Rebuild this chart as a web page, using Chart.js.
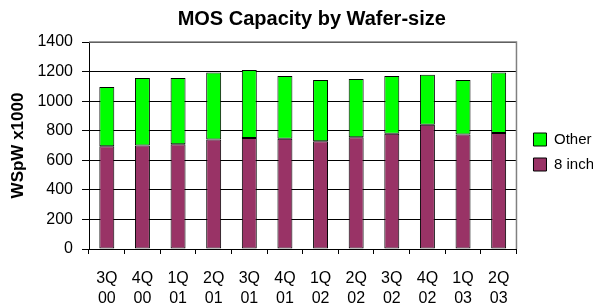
<!DOCTYPE html>
<html>
<head>
<meta charset="utf-8">
<script src="https://cdn.jsdelivr.net/npm/chart.js@4"></script>
<style>
  html, body { margin: 0; padding: 0; background: #fff; }
  #wrap { width: 593px; height: 304px; }
</style>
</head>
<body>
<div id="wrap"><canvas id="myChart" width="593" height="304"></canvas></div>
<script>
// quarters, two line labels
var quarters = [["3Q","00"],["4Q","00"],["1Q","01"],["2Q","01"],["3Q","01"],["4Q","01"],
                ["1Q","02"],["2Q","02"],["3Q","02"],["4Q","02"],["1Q","03"],["2Q","03"]];
var eightInch = [695, 700, 709, 741, 750, 745, 729, 756, 779, 840, 774, 784];
var other     = [400, 456, 447, 453, 460, 425, 414, 393, 391, 339, 369, 410];
var yTicks = [0, 200, 400, 600, 800, 1000, 1200, 1400];

var FONT = "'Liberation Sans', Arial, sans-serif";

// gray frame on top and right of plot area, small nudges for title/legend
var framePlugin = {
    id: 'frame',
    afterLayout: function (chart) {
        // excel centres the title a little right of the plot centre
        chart.titleBlock.left += 9;
        chart.titleBlock.right += 9;
        // legend sits a bit further from the plot
        chart.legend.left += 7;
        chart.legend.right += 7;
    },
    afterDatasetsDraw: function (chart) {
        var a = chart.chartArea, c = chart.ctx;
        c.save();
        c.strokeStyle = '#808080';
        c.lineWidth = 1.5;
        c.beginPath();
        c.moveTo(a.left, a.top);
        c.lineTo(a.right, a.top);
        c.lineTo(a.right, a.bottom);
        c.stroke();
        c.restore();
    }
};

var ctx = document.getElementById('myChart').getContext('2d');
new Chart(ctx, {
    type: 'bar',
    data: {
        labels: quarters,
        datasets: [
            {
                label: '8 inch',
                data: eightInch,
                backgroundColor: '#993366',
                borderColor: '#000',
                borderWidth: 1,
                borderSkipped: false
            },
            {
                label: 'Other',
                data: other,
                backgroundColor: '#00FF00',
                borderColor: '#000',
                borderWidth: 1,
                borderSkipped: false
            }
        ]
    },
    options: {
        responsive: false,
        animation: false,
        devicePixelRatio: 1,
        layout: { padding: { left: 8, right: -4, top: 0, bottom: 0 } },
        datasets: { bar: { categoryPercentage: 1, barPercentage: 0.42 } },
        plugins: {
            title: {
                display: true,
                text: 'MOS Capacity by Wafer-size',
                color: '#000',
                fullSize: false,
                font: { family: FONT, size: 20, weight: 'bold' },
                padding: { top: 7, bottom: 11 }
            },
            legend: {
                position: 'right',
                reverse: true,
                labels: {
                    color: '#000',
                    boxWidth: 13,
                    boxHeight: 13,
                    padding: 10,
                    font: { family: FONT, size: 15 }
                }
            },
            tooltip: { enabled: false }
        },
        scales: {
            x: {
                stacked: true,
                afterFit: function (scale) { scale.height = 55; },
                grid: {
                    display: true,
                    drawOnChartArea: false,
                    color: '#000',
                    tickLength: 5,
                    offset: true
                },
                border: { color: '#000', width: 1 },
                ticks: {
                    color: '#000',
                    maxRotation: 0,
                    autoSkip: false,
                    padding: 15,
                    font: { family: FONT, size: 16, lineHeight: 1.25 }
                }
            },
            y: {
                stacked: true,
                min: 0,
                max: 1400,
                afterBuildTicks: function (scale) {
                    scale.ticks = yTicks.map(function (v) { return { value: v }; });
                },
                afterFit: function (scale) { scale.width = 81; },
                grid: {
                    color: '#000',
                    tickLength: 7
                },
                border: { color: '#000', width: 1 },
                ticks: {
                    color: '#000',
                    padding: 9,
                    font: { family: FONT, size: 16 },
                    callback: function (v) { return String(v); }
                },
                title: {
                    display: true,
                    text: 'WSpW x1000',
                    color: '#000',
                    font: { family: FONT, size: 17, weight: 'bold' },
                    padding: { top: 0, bottom: 6 }
                }
            }
        }
    },
    plugins: [framePlugin]
});
</script>
</body>
</html>
